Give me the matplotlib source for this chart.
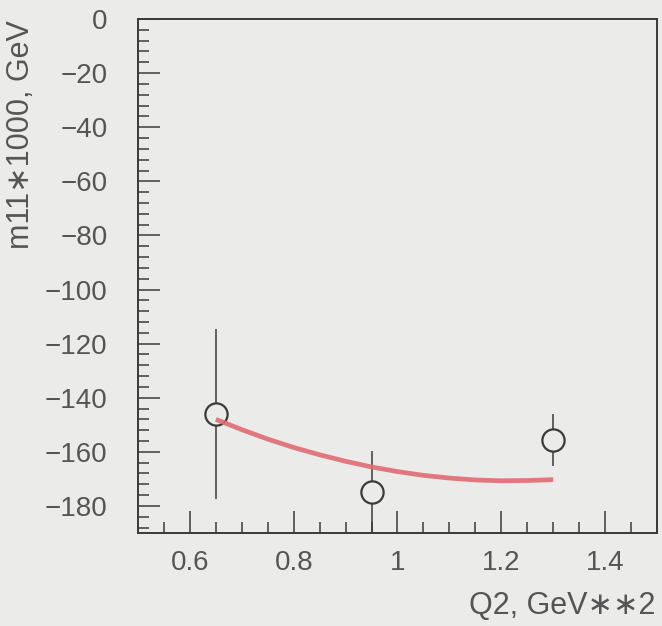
import matplotlib.pyplot as plt
from matplotlib.ticker import AutoMinorLocator

plt.rcParams['font.family'] = ['Liberation Sans', 'DejaVu Sans']

# measured points: Q2 [GeV^2], m11*1000 [GeV], error
q2 = [0.65, 0.95, 1.30]
m11 = [-146.0, -174.8, -155.6]
m11_err = [31.5, 15.0, 9.6]

# model curve
q2_fit = [0.65, 0.70, 0.75, 0.80, 0.85, 0.90, 0.95, 1.00, 1.05, 1.10, 1.15, 1.20, 1.25, 1.30]
m11_fit = [-148.0, -151.8, -155.3, -158.4, -161.1, -163.5, -165.6, -167.3,
           -168.7, -169.7, -170.4, -170.7, -170.6, -170.3]

bg = '#ebece9'
ink = '#555555'

fig = plt.figure(figsize=(6.62, 6.26), dpi=100, facecolor=bg)
ax = fig.add_axes([0.2085, 0.1486, 0.7839, 0.821], facecolor=bg)

ax.errorbar(q2, m11, yerr=m11_err, fmt='o', ms=16, mfc=bg, mec='#3a3a3a',
            mew=1.6, ecolor='#3a3a3a', elinewidth=1.1, capsize=0, zorder=2)
ax.plot(q2_fit, m11_fit, color='#e06a74', lw=3.4, alpha=0.9,
        solid_capstyle='butt', zorder=3)

ax.set_xlim(0.5, 1.5)
ax.set_ylim(-190, 0)
ax.set_xticks([0.6, 0.8, 1.0, 1.2, 1.4])
ax.set_xticklabels(['0.6', '0.8', '1', '1.2', '1.4'])
ax.set_yticks(range(-180, 1, 20))
ax.xaxis.set_minor_locator(AutoMinorLocator(4))
ax.yaxis.set_minor_locator(AutoMinorLocator(5))

ax.tick_params(which='both', direction='in', colors='#3a3a3a', labelcolor=ink,
               labelsize=20, width=1.1)
ax.tick_params(which='major', length=16)
ax.tick_params(which='minor', length=8)
ax.tick_params(axis='y', which='major', pad=22)
ax.tick_params(axis='x', which='major', pad=12)
for s in ax.spines.values():
    s.set_color('#3a3a3a')
    s.set_linewidth(1.4)

fig.text(0.032, 0.785, 'm11\u22171000, GeV', rotation=90, ha='center', va='center',
         fontsize=22, color=ink)
fig.text(0.99, 0.032, 'Q2, GeV\u2217\u22172', ha='right', va='center',
         fontsize=22, color=ink)

fig.savefig('out.png', dpi=100, facecolor=bg)
